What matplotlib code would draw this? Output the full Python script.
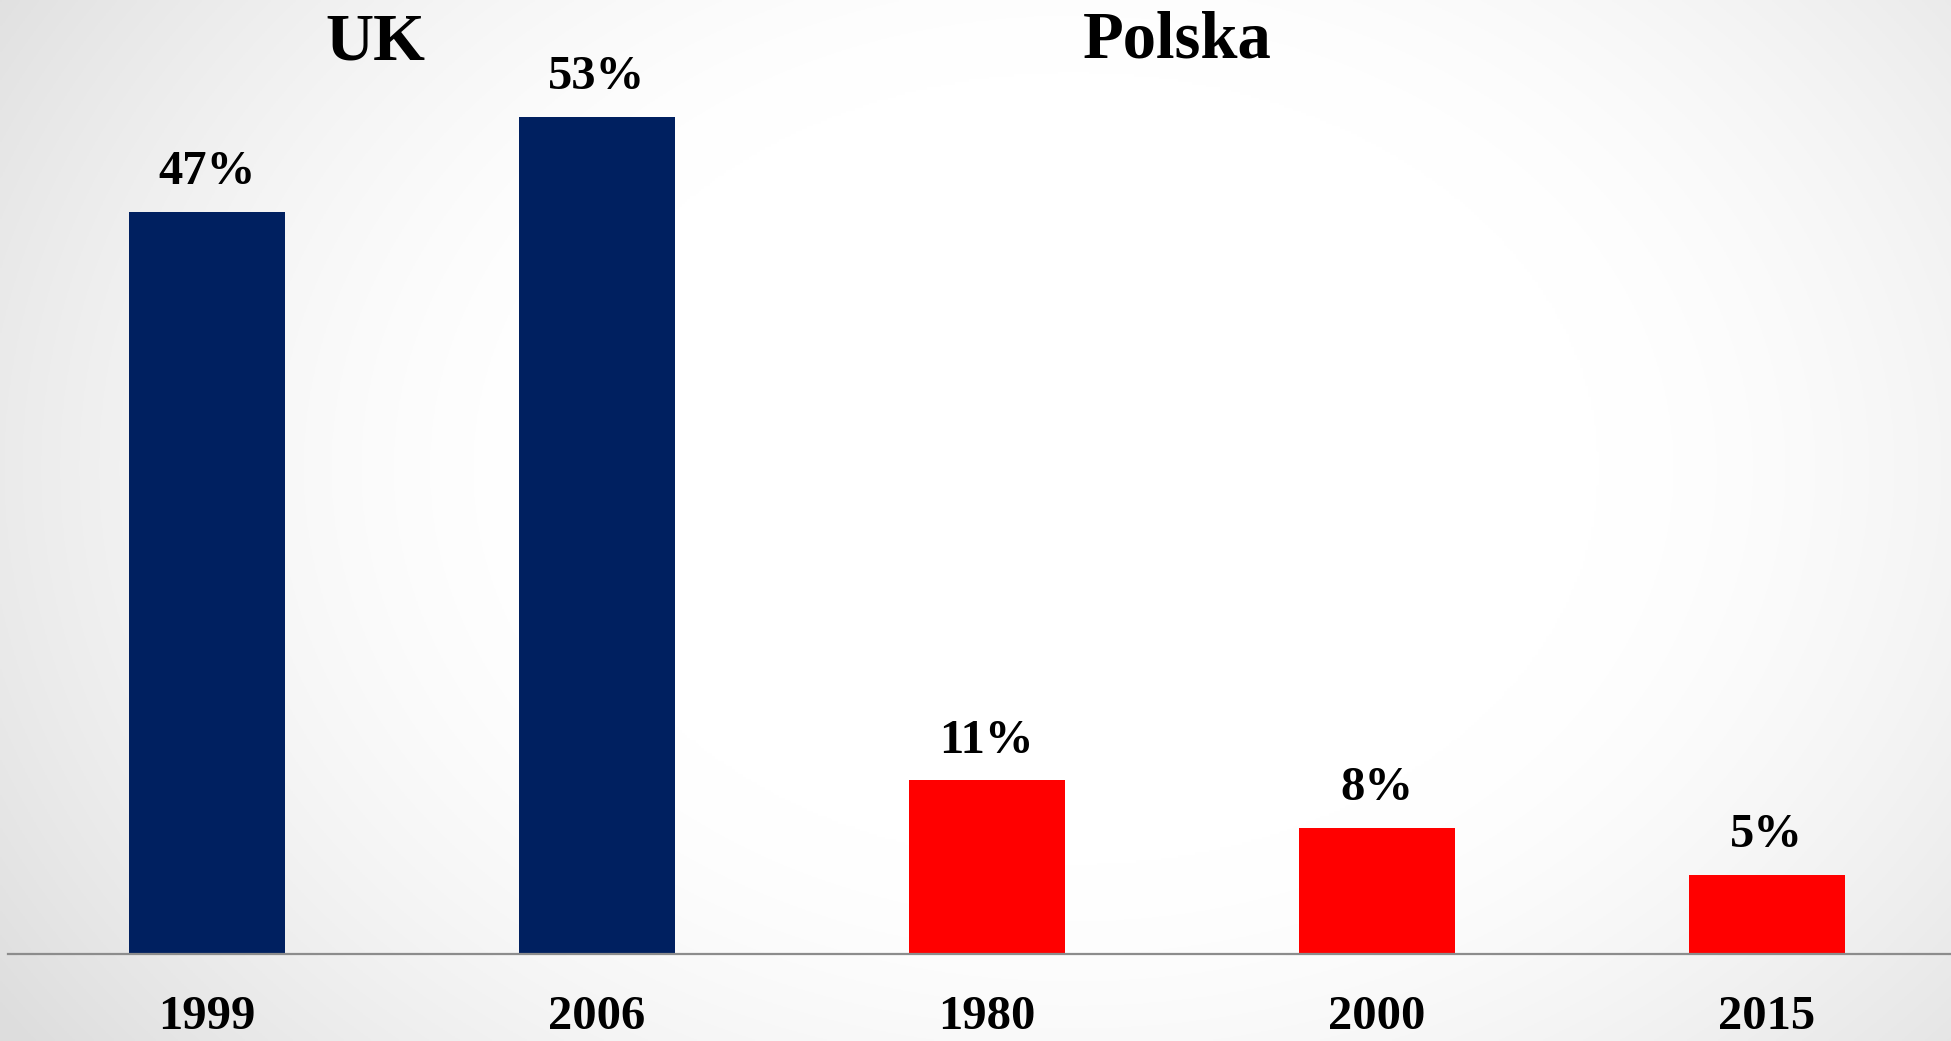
import numpy as np
import matplotlib
matplotlib.use("Agg")
import matplotlib.pyplot as plt
import matplotlib.transforms as mtransforms

# ---- data ----
years = ["1999", "2006", "1980", "2000", "2015"]
values = [47, 53, 11, 8, 5]
groups = ["UK", "UK", "Polska", "Polska", "Polska"]
group_titles = ["UK", "Polska"]

colors = {"UK": "#002060", "Polska": "#FF0000"}

W, H, DPI = 1951, 1041, 100
fig = plt.figure(figsize=(W / DPI, H / DPI), dpi=DPI)
plt.rcParams['font.family'] = ['Liberation Serif', 'DejaVu Serif']

# background radial gradient
bg = fig.add_axes([0, 0, 1, 1])
yy, xx = np.mgrid[0:1:400j, 0:1:700j]
r = np.sqrt(((xx - 0.55) / 0.6) ** 2 + ((yy - 0.45) / 0.85) ** 2)
val = 1 - 0.13 * np.clip((r - 0.45) / 0.65, 0, 1) ** 1.5
bg.imshow(np.dstack([val, val, val]), extent=[0, 1, 0, 1], aspect='auto', origin='upper')
bg.set_axis_off()

# main axes geometry (pixels)
base_px = 954.0
left_px = 8.0
c0, step = 206.5, 390.0
per_pct = 837.0 / 53.0

ax = fig.add_axes([left_px / W, (H - base_px) / H, 1 - left_px / W, base_px / H])
ax.patch.set_alpha(0)
x = np.arange(len(years))
ax.set_xlim((left_px - c0) / step, (W - c0) / step)
ax.set_ylim(0, base_px / per_pct)
bar_colors = [colors[g] for g in groups]
bars = ax.bar(x, values, width=0.4, color=bar_colors)

for xi, v in zip(x, values):
    ax.annotate(f"{v}%", (xi, v), xytext=(0, 20), textcoords='offset points',
                ha='center', va='baseline', fontsize=35, fontweight='bold')

for s in ['top', 'right', 'left']:
    ax.spines[s].set_visible(False)
ax.spines['bottom'].set_color('#8c8c8c')
ax.spines['bottom'].set_linewidth(1.6)
ax.set_yticks([])
ax.set_xticks([])

trans = mtransforms.blended_transform_factory(ax.transData, fig.transFigure)
for xi, yl in zip(x, years):
    ax.text(xi, 1 - 1029 / H, yl, transform=trans, ha='center', va='baseline',
            fontsize=35, fontweight='bold', clip_on=False)

# group titles
fig.text(375 / W, 1 - 60 / H, group_titles[0], ha='center', va='baseline',
         fontsize=48, fontweight='bold')
fig.text(1177 / W, 1 - 58 / H, group_titles[1], ha='center', va='baseline',
         fontsize=48, fontweight='bold')

fig.savefig("out.png", dpi=DPI)
